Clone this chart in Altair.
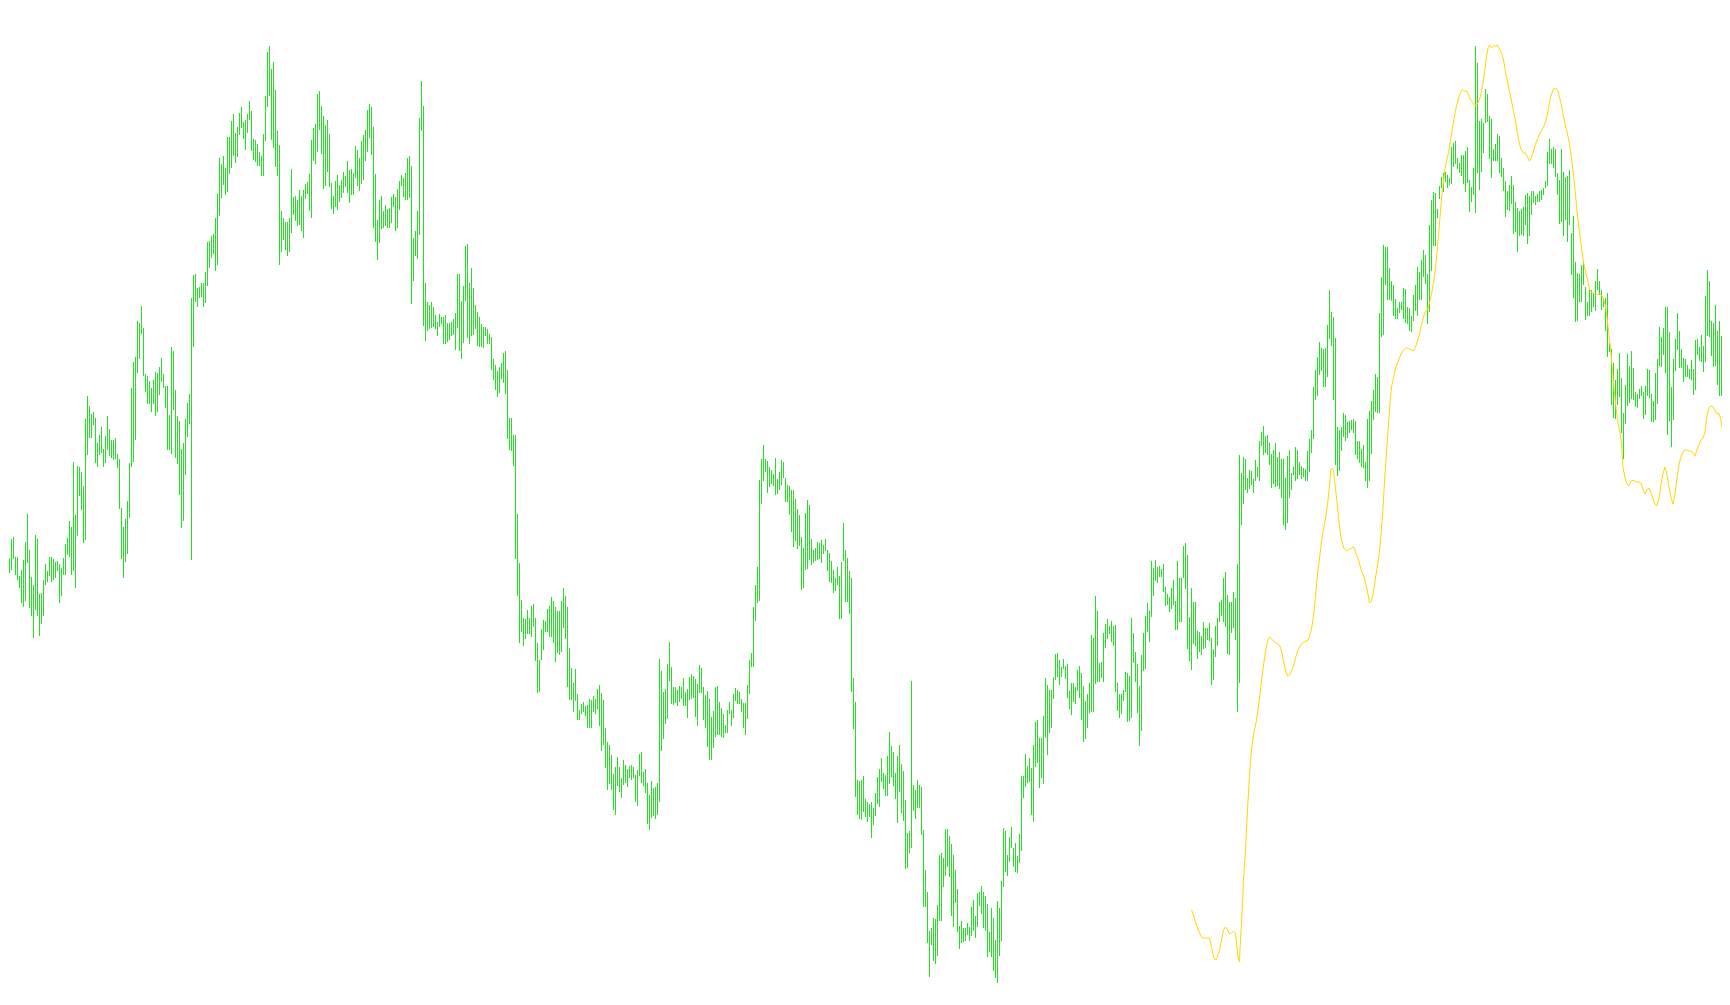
import altair as alt
import pandas as pd

# ---- green high/low bars (price units, one bar per period) ----
highs_1 = [446,427,448,446,442,461,463,443,443,424,430,440,458,486,450,423,415,465,461,406,
           407,420,436,429,443,443,441,438,439,436,432,442,456,462,479,473,538,485,534,533,
           528,514,581,604,594,586,588,582,557,565,573,551,564,584,571,560,560,562,546,541,
           492,473,481,499,537,612,638,643,679,677,694,672,626,624,619,612,620,628,627,633,
           642,626,614,614,585,653,649,610,584,579,551,557,581,597,606,702,725,726,712,713,
           717,717,728,758,759,764,766,782,806,842,836,844,832,863,863,879,886,867,873,887,
           893,878,880,886,899,889,861,860,856,848,844,866,904,948,954,931,938,910,869,855,
           789,782,778,778,782]
lows_1 = [421,410,404,421,427,430,441,425,420,412,397,393,399,437,392,384,362,390,384,364,
          376,384,415,418,424,418,420,422,429,397,404,425,425,445,443,425,429,412,464,504,
          490,457,460,545,562,562,575,537,533,545,547,533,537,550,544,542,540,541,532,491,
          441,422,438,446,482,533,538,560,627,641,666,624,608,596,596,588,596,584,588,605,
          618,612,592,550,550,546,590,542,536,505,472,479,525,563,576,440,653,698,693,702,
          703,693,697,714,732,742,746,729,735,784,802,815,805,808,826,832,844,837,843,865,
          872,861,850,867,880,849,840,838,834,834,824,824,859,893,904,860,852,833,824,735,
          748,760,750,744,748]

highs_2 = [831,803,804,800,810,804,810,816,818,826,860,872,876,906,909,894,884,875,880,866,
           817,804,819,825,815,820,828,824,839,830,831,827,854,850,842,859,865,870,890,896,
           893,873,826,780,800,804,789,795,791,792,803,806,803,811,819,825,822,827,842,844,
           834,762,769,789,882,919,894,717,698,695,698,693,685,678,686,683,683,685,677,677,
           678,681,687,726,726,699,714,754,756,717,732,712,695,688,683,676,673,673,671,666,
           663,641,635,629,633,637,647,649,630,582,582,565,565,486,437,400,382,381,390,382,
           394,396,382,357,340,371,380,379,391,394,403,399,393,389,389,399,412,404,393,352,
           332,317,331,306,290]
lows_2 = [767,785,779,774,775,769,762,801,806,789,782,839,836,848,870,846,811,814,828,813,
          791,786,793,790,798,802,807,813,807,797,805,805,822,814,809,816,820,839,848,862,
          845,772,758,740,757,771,772,774,772,772,777,793,769,772,790,814,803,800,800,802,
          696,719,744,741,765,869,674,659,669,671,672,673,671,664,673,676,656,656,658,660,
          664,665,650,672,649,641,657,699,662,656,664,665,671,654,653,653,652,664,656,656,
          630,620,610,603,607,621,617,606,561,550,549,534,441,404,357,368,354,361,366,366,
          363,373,339,307,308,340,350,368,368,363,363,357,338,347,345,348,372,361,313,300,
          300,288,299,280,280]

highs_3 = [296,298,294,295,301,300,304,301,311,315,307,300,272,258,255,245,226,233,243,233,
           222,240,235,231,234,235,233,225,230,246,248,228,231,217,205,219,212,213,217,341,
           329,308,311,336,358,333,313,313,310,314,313,322,308,311,323,326,324,321,316,335,
           332,313,305,309,301,283,289,313,314,298,292,286,275,290,298,290,306,312,310,308,
           301,297,297,315,340,347,393,415,433,520,541,555,541,539,533,530,526,542,521,528,
           540,538,522,515,514,510,510,501,491,485,463,452,487,500,495,461,450,452,458,457,
           460,455,461,450,447,439,430,422,433,424,438,477,450,442,429,422,322,298,220,219,
           220,224,201,198,196]
lows_3 = [286,288,284,272,272,272,288,286,291,274,249,255,232,210,216,210,190,185,214,208,
          202,215,217,213,222,220,222,198,194,224,217,214,207,176,170,182,184,181,185,198,
          249,261,276,281,319,296,295,297,294,298,301,294,294,282,300,301,302,283,274,307,
          307,280,272,253,240,240,252,263,265,265,263,262,267,267,286,274,282,299,296,296,
          288,272,265,281,306,333,333,379,397,399,496,519,528,507,513,516,514,505,506,510,
          515,522,498,498,485,468,453,459,451,454,410,412,430,431,440,435,437,439,440,441,
          437,446,449,429,418,417,407,409,415,381,381,439,398,398,386,308,271,203,185,181,
          180,188,183,178,183]

highs_4 = [198,192,207,223,231,242,227,225,244,268,254,248,227,244,255,236,229,200,167,169,
           319,215,210,220,215,213,170,130,108,69,72,82,81,95,145,147,142,171,171,164,
           156,145,130,111,74,79,72,72,77,73,93,100,84,107,108,114,108,104,96,68,
           92,82,60,99,92,119,172,169,145,163,173,152,157,144,166,224,224,246,234,242,
           232,255,278,280,262,262,284,322,315,310,310,323,346,347,340,333,341,334,336,309,
           317,317,313,330,334,327,314,299,306,317,365,362,404,389,337,338,367,376,381,374,
           379,374,375,317,306,306,310,328,327,324,382,367,348,336,314,345,367,384,397,389,
           439,432,440,433,434]
lows_4 = [162,175,184,196,193,218,211,204,204,216,223,214,201,177,208,187,179,131,132,147,
          152,189,181,192,192,165,93,93,57,23,55,39,36,44,79,79,113,124,133,123,
          84,73,97,68,51,57,58,59,65,59,64,69,62,73,94,86,72,69,43,48,
          43,29,22,17,44,59,113,128,124,138,152,133,128,127,137,149,202,213,217,218,
          185,178,233,237,212,222,216,262,245,267,272,301,320,323,315,323,331,321,302,291,
          285,298,296,309,302,280,258,261,272,287,288,288,316,318,318,322,318,352,361,366,
          358,354,308,289,282,286,299,308,278,279,282,337,318,287,254,269,329,331,368,358,
          383,404,419,417,423]

highs_5 = [431,436,413,406,403,412,420,399,439,422,422,454,457,445,383,412,398,398,369,368,
           364,378,372,372,377,362,351,374,382,398,400,422,428,405,398,398,408,402,436,545,
           527,543,541,522,530,529,521,540,533,559,568,574,564,565,557,546,550,557,543,548,
           541,541,522,544,550,527,533,553,550,538,534,532,531,549,561,570,613,630,643,658,
           652,651,652,675,710,688,683,662,573,570,573,587,585,578,579,580,581,579,559,559,
           551,555,538,581,589,599,610,626,623,687,723,755,753,753,732,719,715,701,692,698,
           698,712,711,693,692,684,705,715,733,728,740,750,745,726,775,800,808,807,791,814,
           823,827,828,825]
lows_5 = [423,408,394,395,388,391,395,370,370,378,378,422,411,351,339,330,356,354,341,348,
          345,351,352,360,359,315,320,343,354,378,384,378,373,346,345,367,372,360,288,317,
          475,496,510,507,511,515,507,519,523,519,554,545,547,545,535,512,516,513,514,511,
          502,475,470,477,502,510,525,519,521,525,521,523,519,519,528,547,561,600,604,625,
          629,613,613,623,661,654,600,535,524,529,549,563,559,562,567,570,567,545,541,537,
          533,532,519,512,519,546,580,588,587,587,663,665,715,700,700,699,684,681,681,687,
          690,681,677,676,669,668,679,689,684,700,700,723,716,676,688,729,754,754,782,801,
          812,808,818,812]

highs_6 = [822,853,857,859,842,837,845,845,849,853,820,813,832,954,937,879,881,877,911,906,
           884,881,851,856,866,864,842,832,819,809,815,824,815,798,792,789,791,793,805,807,
           804,809,809,804,806,809,810,812,819,848,861,851,853,851,827,820,851,828,823,824,
           830,767,784,738,727,726,735,739,713,698,710,710,707,719,731,719,710,702,702,707,
           657,651,637,620,631,647,622,587,615,646,634,649,632,608,606,611,614,608,614,631,
           630,606,599,627,641,673,663,672,693,693,668,613,641,661,687,669,651,642,641,635,
           631,640,631,660,661,653,665,654,704,730,719,679,677,695,669,679,664,605,599,600,
           598]
lows_6 = [815,816,833,836,831,827,824,816,808,817,788,798,805,787,827,810,828,847,877,878,
          841,822,839,839,839,827,823,809,783,790,789,796,766,768,748,764,765,764,775,756,
          764,785,797,795,798,798,800,805,812,814,836,836,832,823,805,776,778,764,780,758,
          775,725,702,678,679,698,698,715,680,684,684,688,693,689,710,705,690,693,669,643,
          648,595,582,581,595,603,567,541,576,594,597,601,600,593,592,601,604,581,585,604,
          602,578,578,580,596,634,633,645,627,565,579,553,580,629,650,632,632,618,623,623,
          621,620,605,610,645,639,638,628,638,664,663,644,633,634,615,604,604,594,582,580,
          580]

# ---- yellow moving-average line (bar position, price) ----
yellow_x = [596,597,598,599,600,601,602,603,604,605,606,607,608,609,610,611,612,613,614,615,
            616,617,618,618.7,619.3,620,620.3,621,621.7,622,623,624,625,626,627,628.5,629.9,631,632,633,
            634,635,636,637,638,639,640,641,642,643,644,645,646,647,648,649,650,651,652,653,
            654,655,656,657,657.7,658.4,659,659.7,660.4,661,661.7,662.4,663,663.7,664.4,665,665.7,666.4,667,667.7,
            668.4,669,669.7,670.4,671,671.7,672.4,673,673.7,674.4,675,676,677,677.7,678.7,679.7,680.7,681.7,682.7,683.7,
            684.4,685,686,687,688,689,690,690.7,691.4,692,692.7,693.4,694,694.7,695.4,696,697,698,699,700,
            701,702,703,704,705,706,707,708,709,710,711,712,713,714,715,716,717,718,719,720,
            721,722,723,724.4,725.4,726.4,727.4,728.4,729.4,730.4,731.4,732.4,733.4,734.4,735.4,736.4,737.4,738.4,739.4,740.4,
            741.4,742.4,743.4,744.4,745,746,747,748,749,750,751,752,753,754,755,756,757,758,759,760,
            761,762,763,764,765,766,767,768,769,770,771,772,773,774,775,776,777,778,779,780,
            781,782,783,784,785,786,787,788,789,790,791,792,793,794,795,796,797,798,799,800,
            801,802,803,804,805,806,807,808,809,810,811,811.7,812.7,813.7,814.7,815.7,816.7,817.7,818.7,819.7,
            820.7,821.7,822.7,823.7,824.7,825.7,826.7,827.7,828.7,829.7,830.7,831.7,832.7,833.7,834.7,835.7,836.7,837.7,838.7,839.7,
            840.7,841.7,842.7,843.7,844.7,845.7,846.7,847.7,848.7,849.7,850.7,851.7,852.7,853.7,854.7,855.7,856.7,857.7,858.7,859.7,
            860.7,861.7,862.7,863.7,864.7]
yellow_y = [90,85,78,72,67,63,62,62,62,62,53,43,40,43,50,60,70,73,70,66,
            67,69,67,53,43,38,53,77,103,120,150,190,225,250,265,280,300,319,335,348,
            359,363,361,359,357,356,355,349,339,330,324,325,329,334,342,349,353,356,358,359,
            359,364,371,384,397,413,426,437,448,459,468,475,482,491,502,515,530,532,530,517,
            504,493,479,468,460,455,451,450,449,450,451,452,453,450,444,439,431,426,420,411,
            404,397,399,408,422,435,448,464,482,501,524,544,562,581,601,613,622,632,637,642,
            647,650,652,652,651,650,649,653,659,666,675,683,689,690,697,706,717,733,753,777,
            801,819,835,846,859,871,883,893,901,907,910,909,909,906,901,898,895,895,898,903,
            913,926,943,953,955,952,954,954,955,951,947,940,928,918,909,899,889,879,866,856,
            850,847,847,843,839,843,849,856,861,866,869,873,878,886,898,906,911,912,910,903,
            894,884,874,866,856,842,825,805,785,768,752,738,728,720,711,708,706,705,706,706,
            705,701,694,678,661,641,617,597,580,570,557,533,523,516,514,518,520,519,518,518,
            517,511,506,510,512,508,501,496,494,501,515,526,533,526,513,503,496,505,521,535,
            543,548,550,550,549,549,547,544,550,555,560,562,567,584,592,594,593,590,586,587,
            580,568,553,538,526]

highs = highs_1 + highs_2 + highs_3 + highs_4 + highs_5 + highs_6
lows = lows_1 + lows_2 + lows_3 + lows_4 + lows_5 + lows_6
bars = pd.DataFrame({"bar": list(range(1, len(highs) + 1)), "high": highs, "low": lows})
avg = pd.DataFrame({"bar": yellow_x, "value": yellow_y})

xs = alt.Scale(domain=[4.25, 861.25], nice=False, zero=False)
ys = alt.Scale(domain=[12, 992], nice=False, zero=False)

rules = alt.Chart(bars).mark_rule(color="#22e022", strokeWidth=1).encode(
    x=alt.X("bar:Q", scale=xs, axis=None),
    y=alt.Y("low:Q", scale=ys, axis=None),
    y2="high:Q",
)
line = alt.Chart(avg).mark_line(color="#ffd700", strokeWidth=1).encode(
    x=alt.X("bar:Q", scale=xs, axis=None),
    y=alt.Y("value:Q", scale=ys, axis=None),
)

chart = (
    alt.layer(rules, line)
    .properties(width=1714, height=980, padding=0,
                autosize=alt.AutoSizeParams(type="none"))
    .configure_view(strokeWidth=0)
)
chart.save("out.html", embed_options={"renderer": "svg", "actions": False})
